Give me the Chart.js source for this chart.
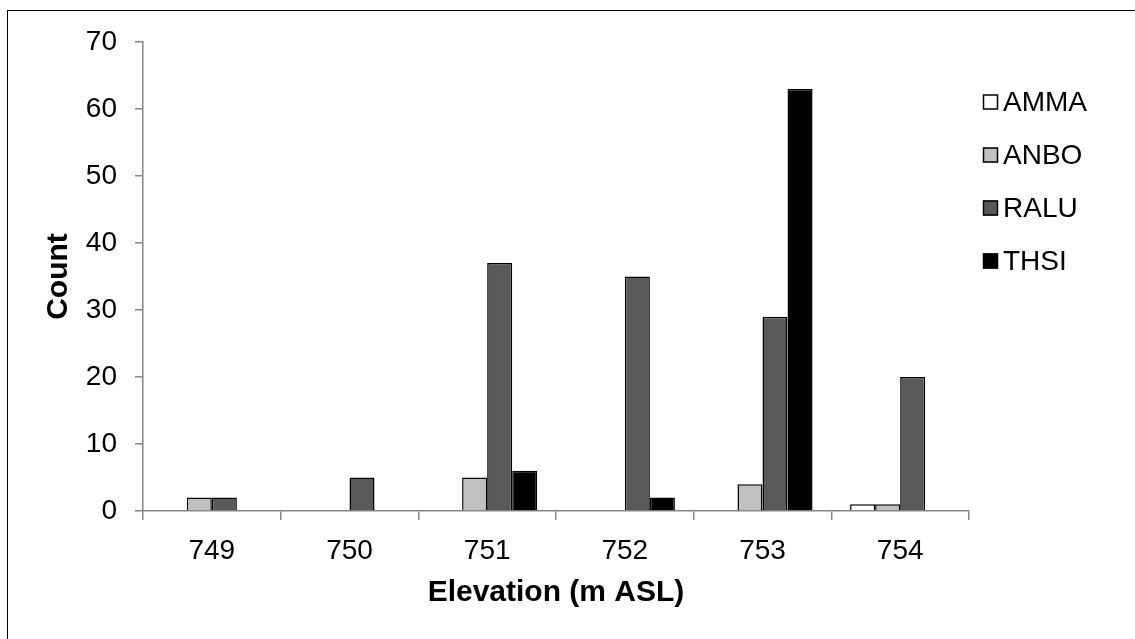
<!DOCTYPE html>
<html>
<head>
<meta charset="utf-8">
<script src="https://cdn.jsdelivr.net/npm/chart.js@4/dist/chart.umd.min.js"></script>
<style>
  html, body { margin: 0; padding: 0; background: #fff; }
  #wrap { position: relative; width: 1135px; height: 639px; overflow: hidden; }
  #frame { position: absolute; left: 7px; top: 10px; width: 1200px; height: 700px; border: 1px solid #000; box-sizing: border-box; }
  #count-chart { position: absolute; left: 0; top: 0; }
</style>
</head>
<body>
<div id="wrap">
  <div id="frame"></div>
  <canvas id="count-chart" width="1135" height="639"></canvas>
</div>
<script>
const elevations = ['749', '750', '751', '752', '753', '754'];
const amma = [0, 0, 0, 0, 0, 1];
const anbo = [2, 0, 5, 0, 4, 1];
const ralu = [2, 5, 37, 35, 29, 20];
const thsi = [0, 0, 6, 2, 63, 0];
const yTicks = [0, 10, 20, 30, 40, 50, 60, 70];

const font = 'Liberation Sans, Arial, sans-serif';
const axisGray = '#868686';

function series(label, data, color) {
    return {
        label: label,
        data: data,
        backgroundColor: color,
        borderColor: '#000',
        borderWidth: 1.5,
        borderSkipped: 'start',
        categoryPercentage: 4 / 5.5,
        barPercentage: 1
    };
}

// legend drawn as a plain list to the right of the plot
const sideLegend = {
    id: 'sideLegend',
    afterDraw(chart) {
        const ctx = chart.ctx;
        ctx.save();
        ctx.font = '28px ' + font;
        ctx.textBaseline = 'middle';
        chart.data.datasets.forEach(function (ds, i) {
            const y = 102 + i * 53;
            ctx.fillStyle = ds.backgroundColor;
            ctx.fillRect(983, y - 7.5, 15, 15);
            ctx.strokeStyle = '#000';
            ctx.lineWidth = 1.5;
            ctx.strokeRect(983.5, y - 7, 14, 14);
            ctx.fillStyle = '#000';
            ctx.fillText(ds.label, 1003, y + 1);
        });
        ctx.restore();
    }
};

new Chart(document.getElementById('count-chart'), {
    type: 'bar',
    data: {
        labels: elevations,
        datasets: [
            series('AMMA', amma, '#ffffff'),
            series('ANBO', anbo, '#c0c0c0'),
            series('RALU', ralu, '#595959'),
            series('THSI', thsi, '#000000')
        ]
    },
    options: {
        responsive: false,
        animation: false,
        layout: { padding: { left: 0, right: 166, top: 42, bottom: 0 } },
        plugins: {
            legend: { display: false },
            tooltip: { enabled: false }
        },
        scales: {
            x: {
                afterFit(scale) { scale.height = 128; },
                grid: {
                    offset: true,
                    drawOnChartArea: false,
                    drawTicks: true,
                    tickLength: 9,
                    color: axisGray,
                    lineWidth: 1.5
                },
                border: { display: true, color: axisGray, width: 1.5 },
                ticks: { color: '#000', padding: 14, font: { family: font, size: 28 } },
                title: {
                    display: true,
                    text: 'Elevation (m ASL)',
                    color: '#000',
                    padding: { top: 0, bottom: 28 },
                    font: { family: font, size: 30, weight: 'bold' }
                }
            },
            y: {
                min: 0,
                max: 70,
                afterFit(scale) { scale.width = 143; },
                afterBuildTicks(scale) {
                    scale.ticks = yTicks.map(function (v) { return { value: v }; });
                },
                grid: {
                    drawOnChartArea: false,
                    drawTicks: true,
                    tickLength: 8,
                    color: axisGray,
                    lineWidth: 1.5
                },
                border: { display: true, color: axisGray, width: 1.5 },
                ticks: { color: '#000', padding: 18, font: { family: font, size: 28 } },
                title: {
                    display: true,
                    text: 'Count',
                    color: '#000',
                    padding: { top: 41, bottom: 0 },
                    font: { family: font, size: 30, weight: 'bold' }
                }
            }
        }
    },
    plugins: [sideLegend]
});
</script>
</body>
</html>
